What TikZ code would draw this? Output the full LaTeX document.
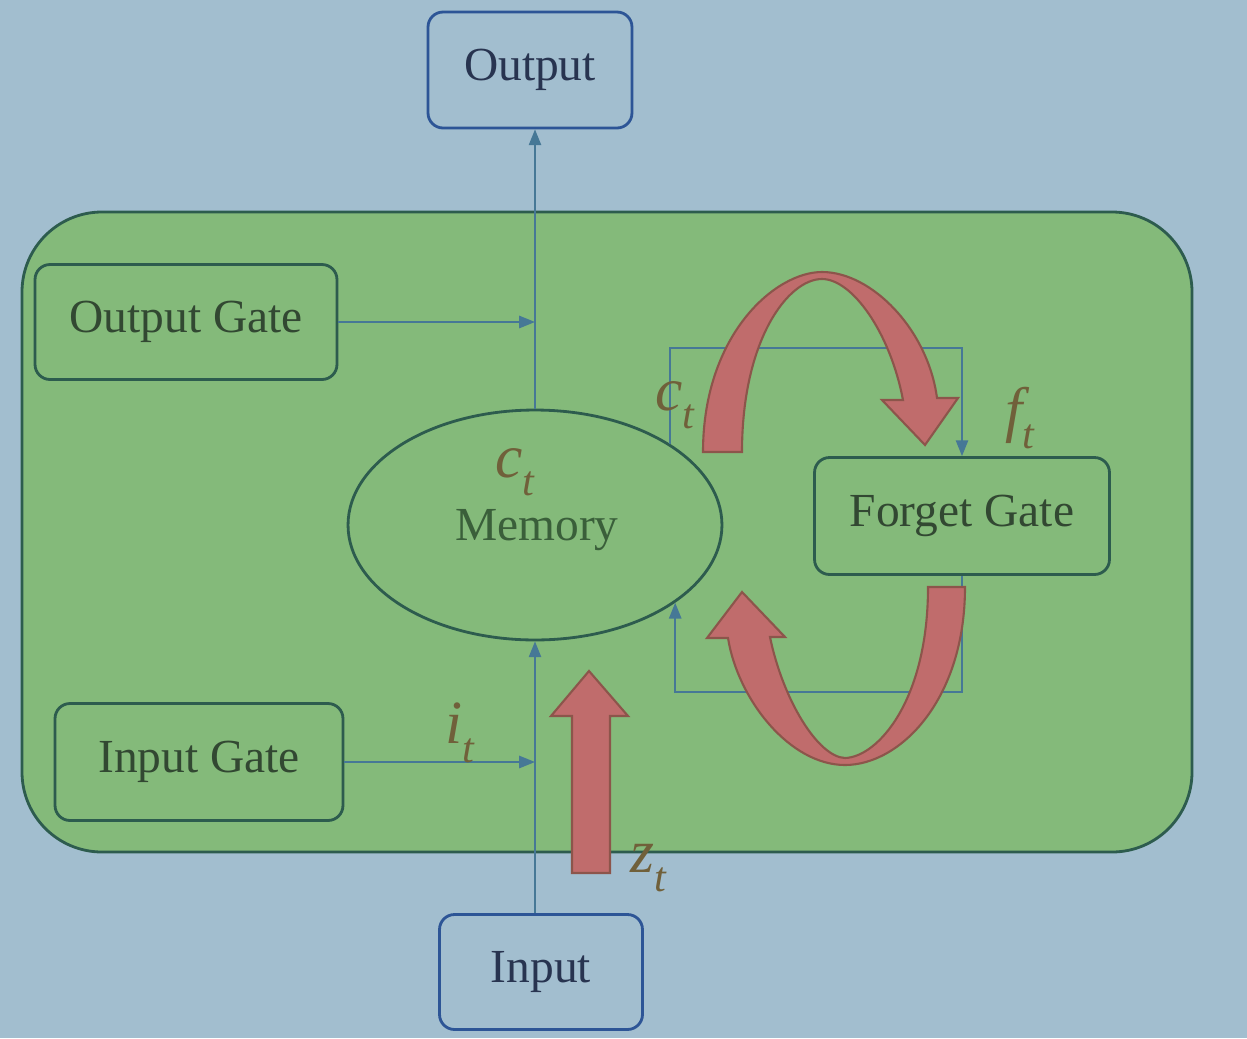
\documentclass[tikz,border=0pt]{standalone}
\usepackage{fontspec}
\setmainfont{Liberation Serif}
\usetikzlibrary{arrows.meta,shapes.geometric}
\definecolor{bgc}{RGB}{162,190,207}
\definecolor{greenf}{RGB}{132,186,122}
\definecolor{boxgreen}{RGB}{45,92,78}
\definecolor{boxblue}{RGB}{45,85,150}
\definecolor{txtblue}{RGB}{40,52,80}
\definecolor{txtgreen}{RGB}{50,72,50}
\definecolor{memtxtc}{RGB}{58,95,58}
\definecolor{linec}{RGB}{70,120,150}
\definecolor{lblc}{RGB}{112,96,58}
\definecolor{redf}{RGB}{192,108,108}
\definecolor{redd}{RGB}{140,85,75}
\newcommand{\lab}[2]{\itshape #1\raisebox{-0.3em}{\fontsize{24}{26}\selectfont #2}}
\begin{document}
\begin{tikzpicture}[x=0.02cm,y=-0.02cm,
  box/.style={draw, rounded corners=0.3cm, line width=1.6pt, inner sep=0pt, font=\fontsize{27}{30}\selectfont},
  bluebox/.style={box, draw=boxblue, fill=bgc, text=txtblue},
  greenbox/.style={box, draw=boxgreen, text=txtgreen},
  conn/.style={draw=linec, line width=1pt, -{Triangle[length=9pt,width=7pt]}},
  lbl/.style={text=lblc, font=\fontsize{35}{37}\selectfont, inner sep=1pt},
  redarr/.style={fill=redf, draw=redd, line width=1.2pt}]
\fill[bgc] (0,0) rectangle (1247,1038);
\useasboundingbox (0,0) rectangle (1247,1038);
\path[draw=boxgreen, fill=greenf, line width=1.6pt, rounded corners=1.6cm] (22,212) rectangle (1192,852);

\node[bluebox, minimum width=4.08cm, minimum height=2.32cm] (out) at (530,70) {Output};
\node[bluebox, minimum width=4.06cm, minimum height=2.3cm] (in) at (541,972) {Input};
\node[greenbox, minimum width=6.04cm, minimum height=2.3cm] (og) at (186,322) {Output Gate};
\node[greenbox, minimum width=5.76cm, minimum height=2.34cm] (ig) at (199,762) {Input Gate};
\node[greenbox, minimum width=5.9cm, minimum height=2.34cm] (fg) at (962,516) {Forget Gate};
\node[ellipse, draw=boxgreen, line width=1.6pt, minimum width=7.48cm, minimum height=4.6cm, inner sep=0pt] (mem) at (535,525) {};
\node[text=memtxtc, font=\fontsize{27}{30}\selectfont] (memtxt) at (537,530) {Memory};
\node[lbl] (cmem) at (515,472) {\lab{c}{t}};

\coordinate (lt) at (0,348);
\coordinate (lb) at (0,692);
\draw[conn] (mem.north) -- (mem.north |- out.south);
\draw[conn] (in.north -| mem.south) -- (mem.south);
\draw[conn] (og.east) -- (og.east -| mem.north);
\draw[conn] (ig.east) -- (ig.east -| mem.south);
\draw[conn] (mem.31) -- (mem.31 |- lt) -| (fg.north);
\draw[conn] (fg.south) -- (fg.south |- lb) -| (mem.-29);

\node[lbl] (it) at (460,733) {\lab{i}{t}};
\node[lbl] (ctl) at (675,405) {\lab{c}{t}};
\node[lbl] (ftl) at (1020,418) {\lab{f}{t}};
\node[lbl] (ztl) at (648,868) {\lab{z}{t}};

% red arrows
\path[redarr] (703,452) .. controls (703,335) and (775,272) .. (822,272)
  .. controls (872,272) and (928,330) .. (937,398) -- (958,398) -- (925,445) -- (882,400) -- (903,400)
  .. controls (890,332) and (852,279) .. (822,279)
  .. controls (788,279) and (742,340) .. (742,452) -- cycle;
\path[redarr] (965,587) .. controls (965,700) and (900,765) .. (845,765)
  .. controls (790,765) and (738,700) .. (728,638) -- (707,638) -- (742,592) -- (785,637) -- (770,637)
  .. controls (783,700) and (818,757) .. (845,758)
  .. controls (878,757) and (928,700) .. (928,587) -- cycle;
\path[redarr] (572,873) -- (572,716) -- (551,716) -- (589,671) -- (628,716) -- (610,716) -- (610,873) -- cycle;
\end{tikzpicture}
\end{document}
